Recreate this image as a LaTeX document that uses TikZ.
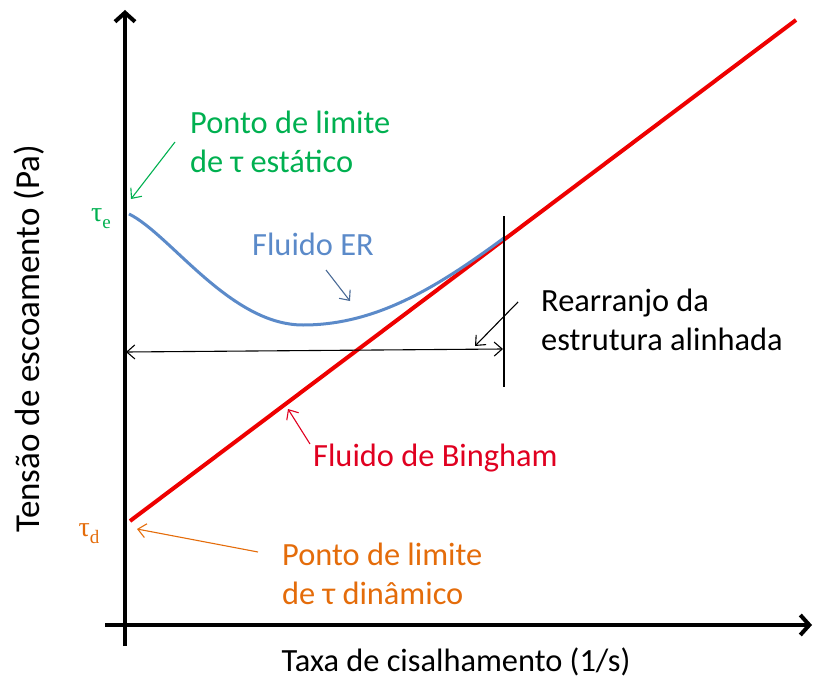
\documentclass[tikz,border=0pt]{standalone}
\usepackage{fontspec}
\setmainfont{Carlito}
\newfontfamily\taufont{Liberation Serif}
\usetikzlibrary{arrows.meta}
\definecolor{cgreen}{HTML}{00B050}
\definecolor{cblue}{HTML}{5B8AC9}
\definecolor{cbluearrow}{HTML}{4A6A96}
\definecolor{cred}{HTML}{EE0000}
\definecolor{credtxt}{HTML}{E00020}
\definecolor{corange}{HTML}{E46C0A}
\tikzset{
  axis/.style={line width=4pt, -{Straight Barb[length=9pt,width=20pt]}},
  thinarrow/.style={line width=1.1pt, -{Straight Barb[length=8pt,width=14pt]}},
  lbl/.style={font=\fontsize{32.4}{39}\selectfont, align=left, anchor=west, inner sep=0pt},
  taulbl/.style={font=\taufont\fontsize{28}{30}\selectfont, inner sep=0pt},
}
\begin{document}
\begin{tikzpicture}[x=1pt,y=-1pt]
\useasboundingbox (0,0) rectangle (813,679);
% axes
\coordinate (yb) at (125,646);
\coordinate (yt) at (125,10);
\coordinate (xl) at (105,625);
\coordinate (xr) at (812,625);
\draw[axis] (yb) -- (yt);
\draw[axis] (xl) -- (xr);
% Bingham line
\coordinate (b0) at (130,521);
\coordinate (b1) at (796,20);
\draw[cred, line width=4pt] (b0) -- (b1);
% ER fluid curve
\coordinate (e0) at (129,214);
\coordinate (emin) at (303,325);
\coordinate (e1) at (504,238);
\draw[cblue, line width=3pt] (e0) .. controls (170,234) and (230,325) .. (emin)
      .. controls (378,325) and (440,285) .. (e1);
% vertical marker and double arrow
\coordinate (vt) at (504,216);
\coordinate (vb) at (504,387);
\draw[line width=1.1pt] (vt) -- (vb);
\coordinate (hl) at (126,352);
\coordinate (hr) at (503,349);
\draw[line width=1.1pt, {Straight Barb[length=8pt,width=14pt]}-{Straight Barb[length=8pt,width=14pt]}] (hl) -- (hr);
% labels
\node[lbl, cgreen] (static) at (190,142) {Ponto de limite\\de τ estático};
\node[taulbl, cgreen] (taue) at (101,219) {τ\raisebox{-0.25em}{\fontsize{19}{20}\selectfont e}};
\node[taulbl, corange] (taud) at (89,534) {τ\raisebox{-0.25em}{\fontsize{19}{20}\selectfont d}};
\node[lbl, cblue] (er) at (252,244) {Fluido ER};
\node[lbl] (rearr) at (541,320) {Rearranjo da\\estrutura alinhada};
\node[lbl, credtxt] (bing) at (313,458) {Fluido de Bingham};
\node[lbl, corange] (dyn) at (282,574) {Ponto de limite\\de τ dinâmico};
\node[font=\fontsize{32.4}{36}\selectfont, inner sep=0pt] (xlab) at (456,662) {Taxa de cisalhamento (1/s)};
\node[font=\fontsize{35}{40}\selectfont, inner sep=0pt, rotate=90] (ylab) at (29,339) {Tensão de escoamento (Pa)};
% annotation arrows
\coordinate (ga) at (175,142);
\coordinate (gb) at (131,199);
\draw[thinarrow, cgreen] (ga) -- (gb);
\coordinate (ea) at (326,270);
\coordinate (eb) at (350,301);
\draw[thinarrow, cbluearrow] (ea) -- (eb);
\coordinate (ra) at (518,302);
\coordinate (rb) at (475,346);
\draw[thinarrow] (ra) -- (rb);
\coordinate (ba) at (310,444);
\coordinate (bb) at (288,409);
\draw[thinarrow, credtxt] (ba) -- (bb);
\coordinate (oa) at (258,552);
\coordinate (ob) at (137,529);
\draw[thinarrow, corange] (oa) -- (ob);
\end{tikzpicture}
\end{document}
